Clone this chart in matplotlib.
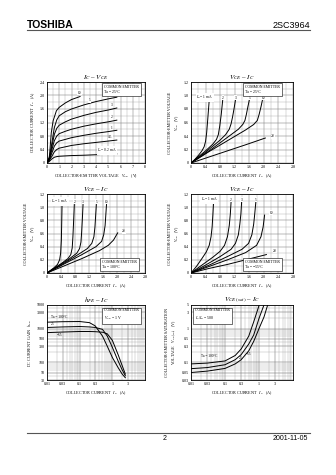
import numpy as np
import matplotlib
matplotlib.use("Agg")
import matplotlib.pyplot as plt
from matplotlib.ticker import MultipleLocator, FixedLocator, NullFormatter

plt.rcParams['font.family'] = ['Liberation Serif', 'DejaVu Serif']
plt.rcParams['mathtext.fontset'] = 'stix'

W, H = 336, 475

# ---- IC - VCE (Ta = 25 C) ----
ic_vce_v = [0, 0.2, 0.4, 0.6, 0.8, 1.0, 1.5, 2, 3, 4, 5, 5.7]
ic_vce_ib02 = [0, 0.05, 0.12, 0.17, 0.19, 0.2, 0.21, 0.22, 0.23, 0.245, 0.26, 0.27]
ic_vce_ib05 = [0, 0.08, 0.2, 0.33, 0.4, 0.44, 0.48, 0.52, 0.57, 0.61, 0.65, 0.68]
ic_vce_ib1 = [0, 0.1, 0.3, 0.5, 0.6, 0.65, 0.7, 0.75, 0.82, 0.88, 0.93, 0.97]
ic_vce_ib2 = [0, 0.12, 0.4, 0.66, 0.8, 0.87, 0.94, 1.0, 1.09, 1.16, 1.22, 1.27]
ic_vce_ib3 = [0, 0.14, 0.5, 0.85, 1.03, 1.12, 1.22, 1.3, 1.41, 1.5, 1.57, 1.63]
ic_vce_ib5 = [0, 0.15, 0.6, 1.05, 1.28, 1.4, 1.52, 1.6, 1.72, 1.82, 1.9, 1.95]
ic_vce_top_v = [0, 0.2, 0.35, 0.5, 0.77, 1.0, 1.5, 2.0, 2.7]
ic_vce_ib10 = [0, 0.2, 0.9, 1.25, 1.55, 1.65, 1.78, 1.88, 1.97]

# ---- VCE - IC, Ta = 25 C ----
v25_ib1_ic = [0, 0.1, 0.2, 0.3, 0.36, 0.40, 0.43, 0.46, 0.50]
v25_ib1_v = [0, 0.05, 0.11, 0.18, 0.24, 0.32, 0.45, 0.65, 0.93]
v25_ib2_ic = [0, 0.2, 0.4, 0.6, 0.7, 0.75, 0.79, 0.83, 0.87]
v25_ib2_v = [0, 0.09, 0.18, 0.28, 0.35, 0.42, 0.55, 0.72, 0.93]
v25_ib3_ic = [0, 0.4, 0.8, 0.95, 1.05, 1.1, 1.14, 1.18, 1.22]
v25_ib3_v = [0, 0.16, 0.34, 0.42, 0.5, 0.58, 0.68, 0.8, 0.93]
v25_ib5_ic = [0, 0.5, 1.0, 1.3, 1.42, 1.48, 1.52, 1.56, 1.6]
v25_ib5_v = [0, 0.18, 0.38, 0.5, 0.57, 0.63, 0.72, 0.83, 0.93]
v25_ib10_ic = [0, 0.5, 1.0, 1.5, 1.72, 1.82, 1.87, 1.92, 1.96]
v25_ib10_v = [0, 0.17, 0.33, 0.49, 0.57, 0.63, 0.72, 0.83, 0.93]
v25_ib20_ic = [0, 0.5, 1.0, 1.5, 2.04]
v25_ib20_v = [0, 0.09, 0.18, 0.27, 0.37]

# ---- VCE - IC, Ta = 100 C ----
v100_ib1_ic = [0, 0.1, 0.2, 0.3, 0.36, 0.39, 0.41, 0.42, 0.43]
v100_ib1_v = [0, 0.04, 0.08, 0.13, 0.2, 0.3, 0.5, 0.75, 1.04]
v100_ib2_ic = [0, 0.2, 0.4, 0.6, 0.68, 0.72, 0.74, 0.76, 0.78]
v100_ib2_v = [0, 0.07, 0.14, 0.22, 0.28, 0.38, 0.55, 0.78, 1.04]
v100_ib3_ic = [0, 0.3, 0.6, 0.85, 0.93, 0.97, 0.99, 1.01, 1.03]
v100_ib3_v = [0, 0.1, 0.2, 0.3, 0.37, 0.47, 0.62, 0.82, 1.04]
v100_ib5_ic = [0, 0.4, 0.8, 1.15, 1.28, 1.34, 1.37, 1.39, 1.41]
v100_ib5_v = [0, 0.12, 0.25, 0.37, 0.45, 0.55, 0.7, 0.87, 1.04]
v100_ib10_ic = [0, 0.5, 1.0, 1.4, 1.56, 1.62, 1.66, 1.68, 1.70]
v100_ib10_v = [0, 0.14, 0.28, 0.4, 0.48, 0.58, 0.72, 0.88, 1.04]
v100_ib20_ic = [0, 0.5, 1.0, 1.5, 1.75, 1.9, 2.02]
v100_ib20_v = [0, 0.11, 0.22, 0.34, 0.42, 0.5, 0.61]

# ---- VCE - IC, Ta = -55 C ----
vm55_ib1_ic = [0, 0.15, 0.3, 0.42, 0.5, 0.55, 0.58, 0.6, 0.62]
vm55_ib1_v = [0, 0.1, 0.22, 0.32, 0.42, 0.55, 0.7, 0.88, 1.08]
vm55_ib2_ic = [0, 0.3, 0.6, 0.8, 0.92, 1.0, 1.05, 1.08, 1.1]
vm55_ib2_v = [0, 0.12, 0.24, 0.33, 0.42, 0.55, 0.72, 0.9, 1.08]
vm55_ib3_ic = [0, 0.4, 0.8, 1.1, 1.22, 1.3, 1.34, 1.37, 1.39]
vm55_ib3_v = [0, 0.12, 0.25, 0.36, 0.45, 0.58, 0.74, 0.9, 1.08]
vm55_ib5_ic = [0, 0.5, 1.0, 1.4, 1.58, 1.67, 1.72, 1.75, 1.78]
vm55_ib5_v = [0, 0.12, 0.25, 0.36, 0.45, 0.58, 0.74, 0.9, 1.08]
vm55_ib10_ic = [0, 0.5, 1.0, 1.5, 1.8, 1.92, 1.98, 2.02]
vm55_ib10_v = [0, 0.1, 0.2, 0.31, 0.42, 0.55, 0.7, 0.88]
vm55_ib20_ic = [0, 0.5, 1.0, 1.5, 2.07]
vm55_ib20_v = [0, 0.07, 0.13, 0.2, 0.28]

# ---- hFE - IC, VCE = 1 V ----
hfe_ic = [0.01, 0.03, 0.1, 0.2, 0.3, 0.5, 0.7, 1.0, 1.5, 2.0, 2.5]
hfe_100 = [1550, 1600, 1620, 1500, 1200, 600, 300, 140, 70, 45, 35]
hfe_25 = [1080, 1120, 1150, 1120, 1080, 950, 600, 280, 110, 60, 40]
hfe_m55 = [760, 790, 820, 820, 810, 780, 700, 450, 170, 80, 45]

# ---- VCE(sat) - IC, IC/IB = 500 ----
sat_ic = [0.01, 0.03, 0.1, 0.2, 0.3, 0.5, 0.7, 1.0, 1.4, 1.8]
sat_100 = [0.09, 0.095, 0.11, 0.16, 0.25, 0.6, 1.6, 4.8, np.nan, np.nan]
sat_25 = [0.065, 0.07, 0.085, 0.12, 0.17, 0.35, 0.65, 2.0, 5.0, np.nan]
sat_m55 = [0.05, 0.055, 0.066, 0.09, 0.12, 0.22, 0.42, 1.0, 2.2, 5.0]


def box(l, t, r, b):
    return [l / W, 1 - b / H, (r - l) / W, (b - t) / H]


fig = plt.figure(figsize=(W / 100, H / 100), dpi=100)
fs_tick = 3.0
fs_lab = 3.0
fs_title = 5.0
lw_curve = 0.7


def finish(ax):
    ax.set_axisbelow(True)
    ax.tick_params(which='both', length=0, labelsize=fs_tick, pad=1.5)
    for s in ax.spines.values():
        s.set_linewidth(0.6)


def style_lin(ax, xmaj, xmin_, ymaj, ymin_, xlim, ylim):
    ax.set_xlim(*xlim)
    ax.set_ylim(*ylim)
    ax.xaxis.set_major_locator(MultipleLocator(xmaj))
    ax.xaxis.set_minor_locator(MultipleLocator(xmin_))
    ax.yaxis.set_major_locator(MultipleLocator(ymaj))
    ax.yaxis.set_minor_locator(MultipleLocator(ymin_))
    ax.grid(which='major', color='#777777', lw=0.35)
    ax.grid(which='minor', color='#999999', lw=0.25)
    finish(ax)


def style_log(ax, xlim, ylim, xt, yt):
    ax.set_xscale('log')
    ax.set_yscale('log')
    ax.set_xlim(*xlim)
    ax.set_ylim(*ylim)
    ax.xaxis.set_major_locator(FixedLocator(xt))
    ax.yaxis.set_major_locator(FixedLocator(yt))
    ax.xaxis.set_major_formatter(plt.FuncFormatter(lambda v, p: '{:g}'.format(v)))
    ax.yaxis.set_major_formatter(plt.FuncFormatter(lambda v, p: '{:g}'.format(v)))
    ax.xaxis.set_minor_formatter(NullFormatter())
    ax.yaxis.set_minor_formatter(NullFormatter())
    ax.grid(which='major', color='#666666', lw=0.35)
    ax.grid(which='minor', color='#999999', lw=0.25)
    finish(ax)


def one_dec(v, p):
    return '0' if v == 0 else '{:.1f}'.format(v)


def ce_box(ax, x, y, lines, va='top'):
    ax.text(x, y, lines, transform=ax.transAxes, fontsize=2.8, ha='left', va=va,
            linespacing=1.5,
            bbox=dict(boxstyle='square,pad=0.5', fc='white', ec='black', lw=0.4))


# ---------------- chart 1 ----------------
ax1 = fig.add_axes(box(47, 82, 145, 163))
for y in [ic_vce_ib02, ic_vce_ib05, ic_vce_ib1, ic_vce_ib2, ic_vce_ib3, ic_vce_ib5]:
    ax1.plot(ic_vce_v, y, color='black', lw=lw_curve)
ax1.plot(ic_vce_top_v, ic_vce_ib10, color='black', lw=lw_curve)
style_lin(ax1, 1, 0.5, 0.4, 0.2, (0, 8), (0, 2.4))
ax1.yaxis.set_major_formatter(plt.FuncFormatter(one_dec))
for tx, ty, s in [(2.5, 2.05, '10'), (3.4, 1.83, '5'), (5.2, 1.68, '3'), (5.2, 1.32, '2'),
                  (5.2, 1.02, '1'), (5.0, 0.73, '0.5'), (4.1, 0.33, r'$I_B$ = 0.2 mA')]:
    ax1.text(tx, ty, s, fontsize=2.6, bbox=dict(fc='white', ec='none', pad=0.3))
ce_box(ax1, 0.58, 0.965, 'COMMON EMITTER\nTa = 25°C')
ax1.set_title(r'$I_C$ – $V_{CE}$', fontsize=fs_title, pad=2)
ax1.set_xlabel(r'COLLECTOR-EMITTER VOLTAGE   $V_{CE}$   (V)', fontsize=fs_lab, labelpad=2)
ax1.set_ylabel(r'COLLECTOR CURRENT   $I_C$   (A)', fontsize=fs_lab, labelpad=2)


def vce_chart(rect, curves, labels, label_x, ce_text, ce_pos, ce_va, title):
    ax = fig.add_axes(rect)
    for xs, ys in curves:
        ax.plot(xs, ys, color='black', lw=lw_curve)
    style_lin(ax, 0.4, 0.2, 0.2, 0.1, (0, 2.8), (0, 1.2))
    ax.xaxis.set_major_formatter(plt.FuncFormatter(one_dec))
    ax.yaxis.set_major_formatter(plt.FuncFormatter(one_dec))
    for (tx, ty), s in zip(label_x, labels):
        ax.text(tx, ty, s, fontsize=2.6, ha='center', bbox=dict(fc='white', ec='none', pad=0.3))
    ce_box(ax, ce_pos[0], ce_pos[1], ce_text, va=ce_va)
    ax.set_title(title, fontsize=fs_title, pad=2)
    ax.set_xlabel(r'COLLECTOR CURRENT   $I_C$   (A)', fontsize=fs_lab, labelpad=2)
    ax.set_ylabel('COLLECTOR-EMITTER VOLTAGE\n' + r'$V_{CE}$   (V)', fontsize=fs_lab, labelpad=2,
                  linespacing=1.3)
    return ax


ib_labels = [r'$I_B$ = 1 mA', '2', '3', '5', '10', '20']

# ---------------- chart 2 ----------------
vce_chart(box(191, 82, 293, 163),
          [(v25_ib1_ic, v25_ib1_v), (v25_ib2_ic, v25_ib2_v), (v25_ib3_ic, v25_ib3_v),
           (v25_ib5_ic, v25_ib5_v), (v25_ib10_ic, v25_ib10_v), (v25_ib20_ic, v25_ib20_v)],
          ib_labels, [(0.38, 0.95), (0.88, 0.95), (1.22, 0.95), (1.6, 0.95), (1.98, 0.95), (2.25, 0.38)],
          'COMMON EMITTER\nTa = 25°C', (0.53, 0.965), 'top', r'$V_{CE}$ – $I_C$')

# ---------------- chart 3 ----------------
vce_chart(box(47, 194, 145, 273),
          [(v100_ib1_ic, v100_ib1_v), (v100_ib2_ic, v100_ib2_v), (v100_ib3_ic, v100_ib3_v),
           (v100_ib5_ic, v100_ib5_v), (v100_ib10_ic, v100_ib10_v), (v100_ib20_ic, v100_ib20_v)],
          ib_labels, [(0.36, 1.07), (0.78, 1.07), (1.03, 1.07), (1.41, 1.07), (1.70, 1.07), (2.2, 0.62)],
          'COMMON EMITTER\nTa = 100°C', (0.56, 0.05), 'bottom', r'$V_{CE}$ – $I_C$')

# ---------------- chart 4 ----------------
vce_chart(box(191, 194, 293, 273),
          [(vm55_ib1_ic, vm55_ib1_v), (vm55_ib2_ic, vm55_ib2_v), (vm55_ib3_ic, vm55_ib3_v),
           (vm55_ib5_ic, vm55_ib5_v), (vm55_ib10_ic, vm55_ib10_v), (vm55_ib20_ic, vm55_ib20_v)],
          ib_labels, [(0.5, 1.1), (1.1, 1.1), (1.39, 1.1), (1.78, 1.1), (2.2, 0.9), (2.3, 0.32)],
          'COMMON EMITTER\nTa = −55°C', (0.53, 0.05), 'bottom', r'$V_{CE}$ – $I_C$')

# ---------------- chart 5 ----------------
ax5 = fig.add_axes(box(47, 305, 145, 380))
for ys in [hfe_100, hfe_25, hfe_m55]:
    ax5.plot(hfe_ic, ys, color='black', lw=lw_curve)
style_log(ax5, (0.01, 10), (30, 5000), [0.01, 0.03, 0.1, 0.3, 1, 3],
          [30, 50, 100, 300, 500, 1000, 3000, 5000])
ax5.text(0.013, 2000, 'Ta = 100°C', fontsize=2.6)
ax5.text(0.013, 1250, '25', fontsize=2.6)
ax5.text(0.02, 620, '−55', fontsize=2.6)
ce_box(ax5, 0.58, 0.96, 'COMMON EMITTER\n' + r'$V_{CE}$ = 1 V')
ax5.set_title(r'$h_{FE}$ – $I_C$', fontsize=fs_title, pad=2)
ax5.set_xlabel(r'COLLECTOR CURRENT   $I_C$   (A)', fontsize=fs_lab, labelpad=2)
ax5.set_ylabel(r'DC CURRENT GAIN   $h_{FE}$', fontsize=fs_lab, labelpad=2)

# ---------------- chart 6 ----------------
ax6 = fig.add_axes(box(191, 305, 293, 380))
for ys in [sat_100, sat_25, sat_m55]:
    ax6.plot(sat_ic, ys, color='black', lw=lw_curve)
style_log(ax6, (0.01, 10), (0.03, 5), [0.01, 0.03, 0.1, 0.3, 1, 3],
          [0.03, 0.05, 0.1, 0.3, 0.5, 1, 3, 5])
ax6.text(0.02, 0.14, 'Ta = 100°C', fontsize=2.6)
ax6.text(0.25, 0.13, '25', fontsize=2.6)
ax6.text(0.4, 0.16, '−55', fontsize=2.6)
ce_box(ax6, 0.04, 0.96, 'COMMON EMITTER\n' + r'$I_C$/$I_B$ = 500')
ax6.set_title(r'$V_{CE\ (sat)}$ – $I_C$', fontsize=fs_title, pad=2)
ax6.set_xlabel(r'COLLECTOR CURRENT   $I_C$   (A)', fontsize=fs_lab, labelpad=2)
ax6.set_ylabel('COLLECTOR-EMITTER SATURATION\n' + r'VOLTAGE   $V_{CE\ (sat)}$   (V)',
               fontsize=fs_lab, labelpad=2, linespacing=1.3)

# ---------------- header / footer ----------------
fig.text(27 / W, 1 - 28 / H, 'TOSHIBA', fontsize=7.5, fontweight='bold',
         family='Liberation Sans', ha='left', va='baseline')
fig.text(310 / W, 1 - 28 / H, '2SC3964', fontsize=6.5, family='Liberation Sans',
         ha='right', va='baseline')
fig.add_artist(plt.Line2D([27 / W, 310 / W], [1 - 30 / H, 1 - 30 / H], color='#555555', lw=0.8))
fig.add_artist(plt.Line2D([27 / W, 310 / W], [1 - 433 / H, 1 - 433 / H], color='#555555', lw=0.8))
fig.text(165 / W, 1 - 440 / H, '2', fontsize=5, family='Liberation Sans', ha='center', va='baseline')
fig.text(308 / W, 1 - 440 / H, '2001-11-05', fontsize=5, family='Liberation Sans',
         ha='right', va='baseline')

fig.savefig('out.png', dpi=100)
